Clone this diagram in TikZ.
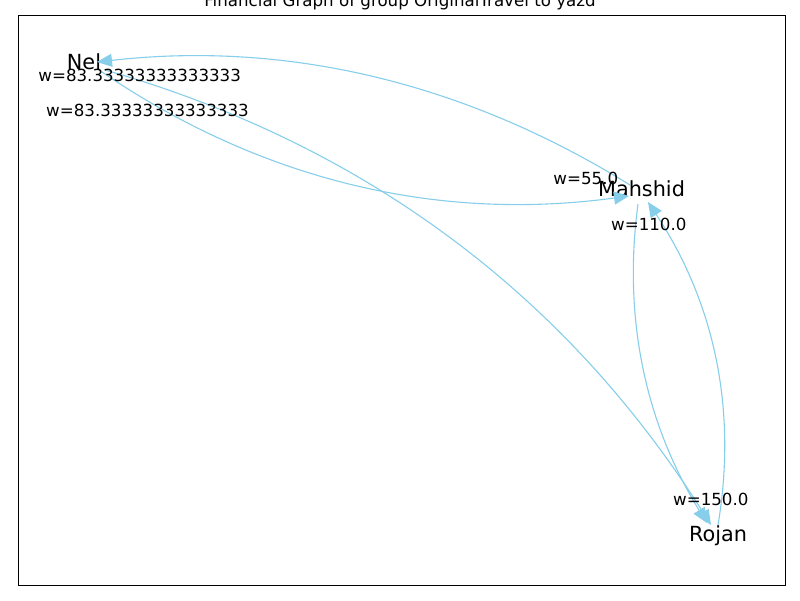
\documentclass[tikz,border=0pt]{standalone}
\usepackage{fontspec}
\setmainfont{DejaVu Sans}
\usetikzlibrary{arrows.meta}
\definecolor{skyblue}{HTML}{87CEEB}
\tikzset{
  nodelabel/.style={anchor=base, inner sep=0pt, font=\fontsize{20.8}{24}\selectfont},
  edgelabel/.style={anchor=base, inner sep=0pt, font=\fontsize{16.67}{20}\selectfont},
  titlelabel/.style={anchor=base, inner sep=0pt, font=\fontsize{16.67}{20}\selectfont},
  edge/.style={draw=skyblue, line width=1.1pt, -{Triangle[length=15pt,width=13pt]}, fill=none},
}
\begin{document}
\begin{tikzpicture}[x=1pt,y=-1pt]
\useasboundingbox (0,0) rectangle (800,600);
\clip (0,0) rectangle (800,600);
\fill[white] (0,0) rectangle (800,600);
\draw[black, line width=0.8pt] (18,15) rectangle (785,585);
\node[titlelabel] (title) at (400,6) {Financial Graph of group OriginalTravel to yazd};

% nodes
\node[nodelabel] (Nel) at (84,69.5) {Nel};
\node[nodelabel] (Mahshid) at (641.5,196.7) {Mahshid};
\node[nodelabel] (Rojan) at (718,541.7) {Rojan};

% edge end points
\coordinate (mN1) at (630,185);
\coordinate (nM1) at (97,62);
\coordinate (nM2) at (102,72);
\coordinate (mN2) at (629,196);
\coordinate (nR) at (105,70);
\coordinate (rN) at (711,525);
\coordinate (mR) at (638,204);
\coordinate (rM) at (707,523);
\coordinate (rM2) at (718,525);
\coordinate (mR2) at (648,202);

% edges
\draw[edge] (mN1) .. controls (463.3,81.7) and (285.7,40.7) .. (nM1);
\draw[edge] (nM2) .. controls (262,180.7) and (438,222) .. (mN2);
\draw[edge] (nR) .. controls (364.3,144) and (566.3,295.3) .. (rN);
\draw[edge] (mR) .. controls (622.7,317.3) and (645.3,423) .. (rM);
\draw[edge] (rM2) .. controls (737.3,409.7) and (714.7,303) .. (mR2);

% edge labels
\node[edgelabel] (l1) at (139.7,81.7) {w=83.33333333333333};
\node[edgelabel] (l2) at (147.5,116) {w=83.33333333333333};
\node[edgelabel] (l3) at (585.8,184) {w=55.0};
\node[edgelabel] (l4) at (648.8,230.7) {w=110.0};
\node[edgelabel] (l5) at (710.8,505.7) {w=150.0};
\end{tikzpicture}
\end{document}
